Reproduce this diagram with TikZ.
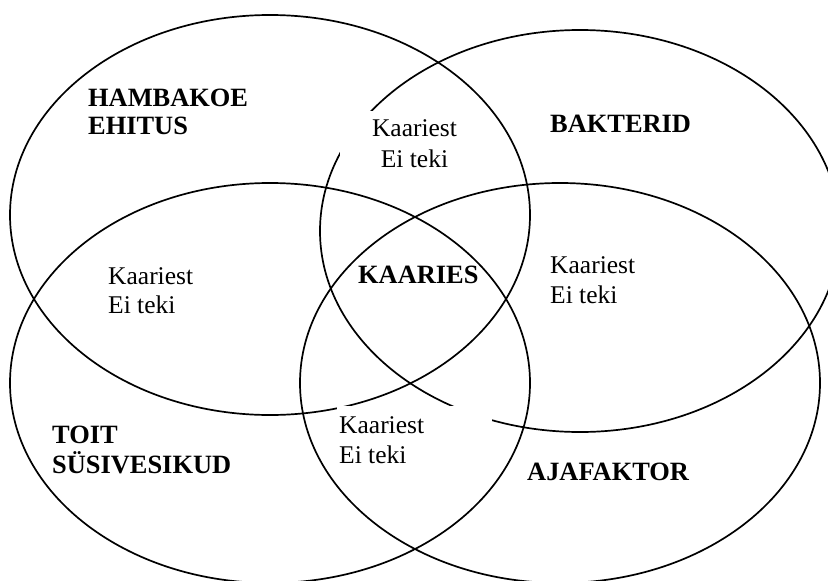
\documentclass[tikz,border=0pt]{standalone}
\usepackage{fontspec}
\setmainfont{Liberation Serif}
\begin{document}
\begin{tikzpicture}[x=1pt,y=-1pt,
  ring/.style={draw=black,line width=1.7pt},
  mask/.style={fill=white,draw=none},
  boldlbl/.style={font=\fontsize{26.4}{30}\selectfont\bfseries,inner sep=0pt,anchor=base west},
  reglbl/.style={font=\fontsize{25.5}{30}\selectfont,inner sep=0pt,anchor=base west}]
\useasboundingbox (0,0) rectangle (828,581);
\begin{scope}
\clip (0,0) rectangle (828,581);
\draw[ring] (270,215) ellipse [x radius=260pt, y radius=200pt];
\draw[ring] (580,231) ellipse [x radius=260pt, y radius=201pt];
\draw[ring] (270,383) ellipse [x radius=260pt, y radius=200pt];
\draw[ring] (560,383) ellipse [x radius=260pt, y radius=200pt];
\end{scope}
% white text frames hiding parts of the outlines
\fill[mask] (340,111) rectangle (465,160);
\fill[mask] (337,406) rectangle (492,470);
% bold labels
\node[boldlbl] (ham1) at (88,106) {HAMBAKOE};
\node[boldlbl] (ham2) at (88,134) {EHITUS};
\node[boldlbl] (bak) at (550,132) {BAKTERID};
\node[boldlbl] (kaaries) at (358,283) {KAARIES};
\node[boldlbl] (toit1) at (52,443) {TOIT};
\node[boldlbl] (toit2) at (52,473) {SÜSIVESIKUD};
\node[boldlbl] (aja) at (527,480) {AJAFAKTOR};
% regular labels
\node[reglbl,anchor=base] (t1) at (414.5,136.5) {Kaariest};
\node[reglbl,anchor=base] (t2) at (414.5,167.5) {Ei teki};
\node[reglbl] (l1) at (108,284) {Kaariest};
\node[reglbl] (l2) at (108,313) {Ei teki};
\node[reglbl] (r1) at (550,273) {Kaariest};
\node[reglbl] (r2) at (550,303) {Ei teki};
\node[reglbl] (b1) at (339,433) {Kaariest};
\node[reglbl] (b2) at (339,463) {Ei teki};
\end{tikzpicture}
\end{document}
